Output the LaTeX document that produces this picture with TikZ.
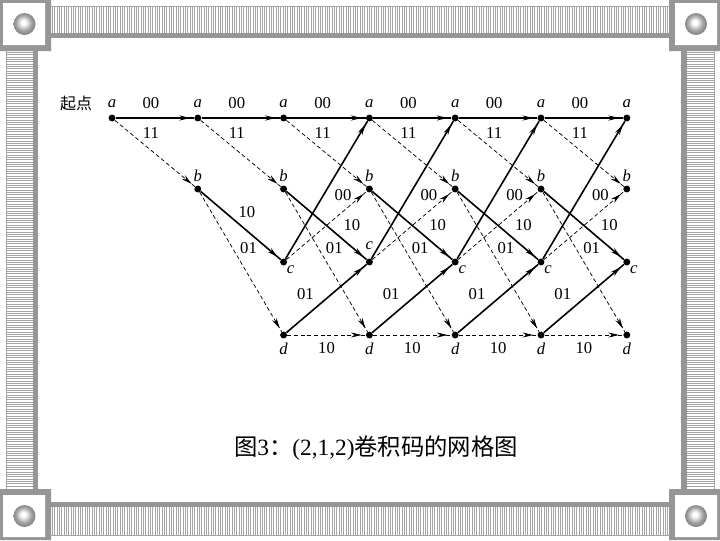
\documentclass[tikz,border=0pt]{standalone}
\usepackage{fontspec}
\setmainfont{Liberation Serif}
\newfontfamily\cjk{Noto Sans CJK SC}
\usetikzlibrary{arrows.meta,decorations.markings}
\definecolor{framegray}{RGB}{150,150,150}
\definecolor{hatchgray}{RGB}{165,165,165}
\pgfdeclareradialshading{spherelight}{\pgfpoint{-3bp}{4bp}}{color(0bp)=(white); color(5bp)=(white); color(18bp)=(gray!75); color(25bp)=(gray!95); color(50bp)=(gray!95)}
\begin{document}
\begin{tikzpicture}
[
    x=0.75pt, y=-0.75pt,
    dot/.style={circle, fill, inner sep=0pt, minimum size=5.2pt},
    lab/.style={inner sep=0pt, font=\fontsize{12.5}{14}\selectfont\itshape},
    txt/.style={inner sep=0pt, font=\fontsize{12.5}{14}\selectfont},
    arrowmid/.style={postaction={decorate}, decoration={markings, mark=at position -3pt with {\arrow{Stealth[length=8pt,width=3.8pt]}}}},
    solidedge/.style={arrowmid, line width=1.2pt},
    dashedge/.style={arrowmid, line width=0.55pt, dash pattern=on 3pt off 2pt},
    hatch/.style={draw=hatchgray, line width=0.55pt},
    band/.style={fill=framegray},
    sphere/.style={shading=spherelight},
]
\useasboundingbox (0,0) rectangle (720,540);
\fill[white] (0,0) rectangle (720,540);
\foreach \x in {52.5,54.83,...,668} \draw[hatch] (\x,6) -- (\x,33);
\foreach \x in {52.5,54.83,...,668} \draw[hatch] (\x,507) -- (\x,535);
\foreach \y in {52.5,54.83,...,488} \draw[hatch] (6,\y) -- (33,\y);
\foreach \y in {52.5,54.83,...,488} \draw[hatch] (687,\y) -- (714,\y);
\draw[hatch] (51,6) -- (669,6) (51,535) -- (669,535) (6,51) -- (6,489) (714,51) -- (714,489);
\fill[band] (51,33) rectangle (669,38);
\fill[band] (51,502) rectangle (669,507);
\fill[band] (33,51) rectangle (38,489);
\fill[band] (681,51) rectangle (687,489);
\fill[band] (0,0) rectangle (51,51) (669,0) rectangle (720,51) (0,489) rectangle (51,540) (669,489) rectangle (720,540);
\fill[white] (3,3) rectangle (45,45) (675,3) rectangle (717,45) (3,495) rectangle (45,537) (675,495) rectangle (717,537);
\shade[sphere] (24.5,24) circle (11);
\shade[sphere] (696,24) circle (11);
\shade[sphere] (24.5,516) circle (11);
\shade[sphere] (696,516) circle (11);

\node[txt, font=\cjk\fontsize{12}{14}\selectfont] (start) at (76,103.5) {起点};
\foreach \i in {0,...,6} \node[dot, label={[lab, label distance=5pt]above:a}] (a\i) at ({112+85.8*\i},118) {};
\foreach \i in {1,...,6} \node[dot, label={[lab, label distance=2.2pt]above:b}] (b\i) at ({112+85.8*\i},189) {};
\node[dot, label={[lab, label distance=0.5pt]below right:c}] (c2) at (283.6,262) {};
\node[dot, label={[lab, label distance=6pt]above:c}] (c3) at (369.4,262) {};
\foreach \i in {4,5,6} \node[dot, label={[lab, label distance=0.5pt]below right:c}] (c\i) at ({112+85.8*\i},262) {};
\foreach \i in {2,...,6} \node[dot, label={[lab, label distance=3pt]below:d}] (d\i) at ({112+85.8*\i},335) {};

\foreach \i [count=\j from 1] in {0,...,5}{
    \draw[solidedge] (a\i) -- node[txt, pos=.45, yshift=10.9pt]{00} node[txt, pos=.45, yshift=-11.2pt]{11} (a\j);
    \draw[dashedge] (a\i) -- (b\j);
}
\draw[solidedge] (b1) -- node[txt, pos=.5, xshift=4.7pt, yshift=10.1pt]{10} (c2);
\foreach \i [count=\j from 3] in {2,...,5}
    \draw[solidedge] (b\i) -- node[txt, pos=.75, xshift=4pt, yshift=13pt]{10} (c\j);
\foreach \i [count=\j from 2] in {1,...,5}
    \draw[dashedge] (b\i) -- node[txt, pos=.4, xshift=12pt]{01} (d\j);
\foreach \i [count=\j from 3] in {2,...,5}{
    \draw[solidedge] (c\i) -- (a\j);
    \draw[dashedge] (c\i) -- node[txt, pos=.82, xshift=-6.8pt, yshift=6.8pt]{00} (b\j);
    \draw[solidedge] (d\i) -- node[txt, pos=.35, xshift=-6.8pt, yshift=10.8pt]{01} (c\j);
    \draw[dashedge] (d\i) -- node[txt, pos=.5, yshift=-9.8pt]{10} (d\j);
}

\node[txt, font=\fontsize{17.5}{20}\selectfont] (caption) at (376,448) {{\cjk 图}3{\cjk ：}(2,1,2){\cjk 卷积码的网格图}};
\end{tikzpicture}
\end{document}
